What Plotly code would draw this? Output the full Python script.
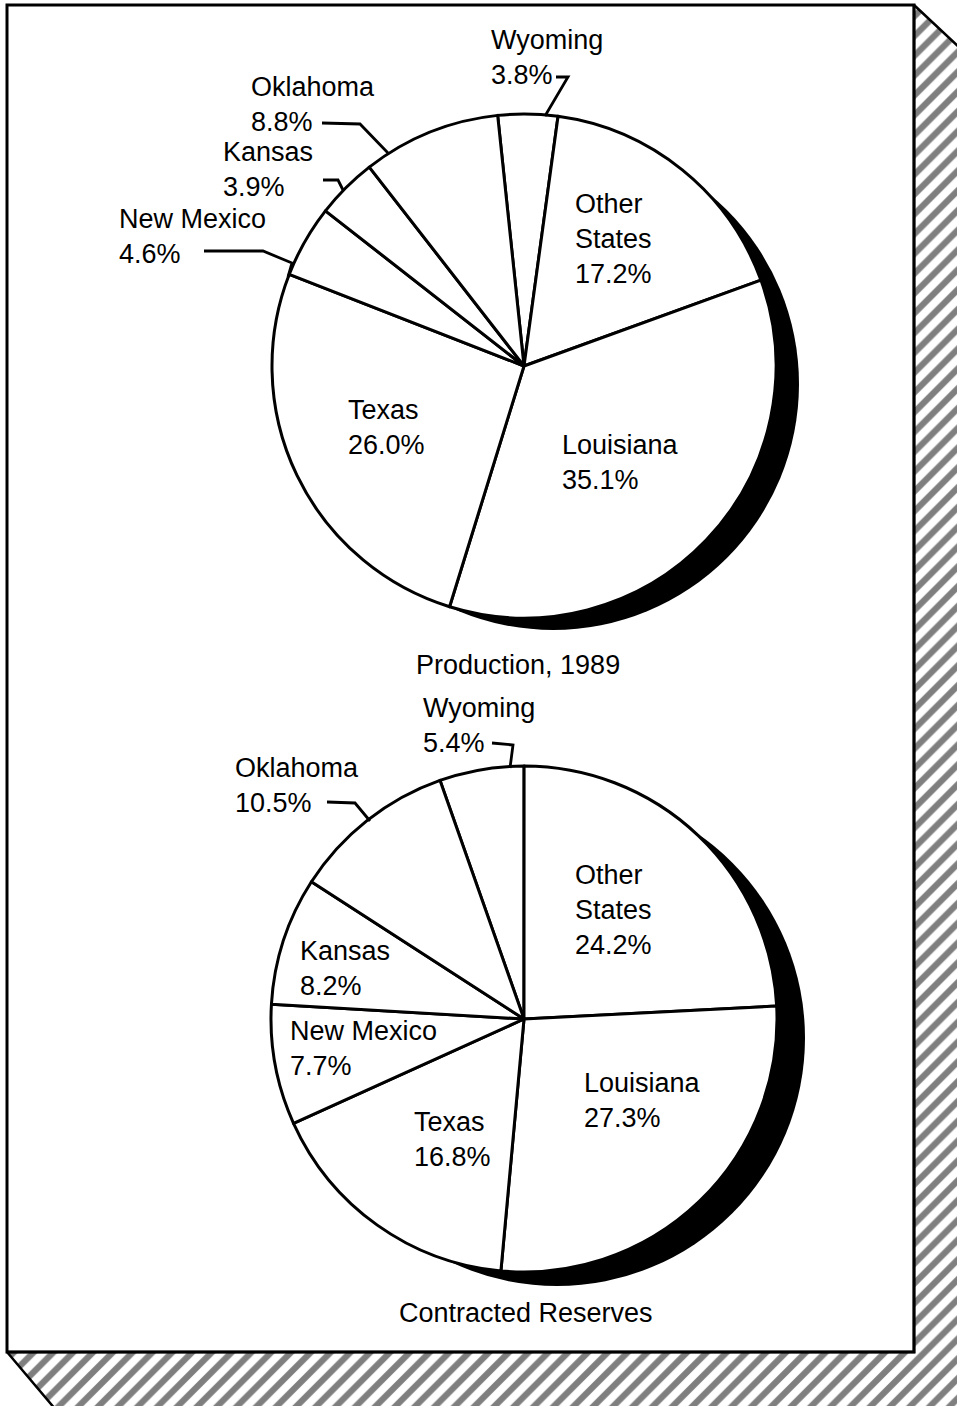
import plotly.graph_objects as go

# ---------------- data ----------------
states = ["Wyoming", "Other States", "Louisiana", "Texas", "New Mexico", "Kansas", "Oklahoma"]
production_1989 = [3.8, 17.2, 35.1, 26.0, 4.6, 3.9, 8.8]
contracted_reserves = [5.4, 24.2, 27.3, 16.8, 7.7, 8.2, 10.5]
chart_titles = ["Production, 1989", "Contracted Reserves"]

# ---------------- layout constants (pixels, window coordinates) ----------------
W, H = 957, 1406
FONT = "Liberation Sans, Arial, Helvetica, sans-serif"
FS = 27

pies = [
    dict(values=production_1989, cx=524, cy=366, r=252, rot=-6,
         sh_cx=553, sh_cy=384, sh_r=246, title_xy=(518, 665)),
    dict(values=contracted_reserves, cx=524, cy=1019, r=253, rot=-19.4,
         sh_cx=557, sh_cy=1038, sh_r=248, title_xy=(526, 1313)),
]

# label anchors: (left x, centre y) per state, per pie
label_pos = [
    {"Wyoming": (489, 57), "Other States": (573, 239), "Louisiana": (560, 462),
     "Texas": (346, 427), "New Mexico": (117, 236), "Kansas": (221, 169),
     "Oklahoma": (249, 104)},
    {"Wyoming": (421, 725), "Other States": (573, 910), "Louisiana": (582, 1100),
     "Texas": (412, 1139), "New Mexico": (288, 1048), "Kansas": (298, 968),
     "Oklahoma": (233, 785)},
]

# leader lines (pixel polylines) for labels placed outside the pie
leaders = [
    [[(556, 77), (568, 77), (545, 116)],
     [(322, 123), (360, 124), (388, 153)],
     [(323, 180), (338, 180), (343, 190)],
     [(204, 251), (263, 251), (292, 263), (288, 277)]],
    [[(492, 743), (513, 745), (510, 768)],
     [(327, 802), (355, 803), (370, 821)]],
]


def dom(cx, cy, r):
    return dict(x=[(cx - r) / W, (cx + r) / W], y=[1 - (cy + r) / H, 1 - (cy - r) / H])


fig = go.Figure()

# hatched shadow frame
hx = [914, 960, 960, 56, 7, 914, 914]
hy = [5, 48, 1410, 1410, 1352, 1352, 5]
fig.add_trace(go.Scatter(
    x=hx, y=hy, mode="lines", fill="toself", fillcolor="white",
    line=dict(color="black", width=2.5),
    fillpattern=dict(shape="/", fgcolor="black", bgcolor="white", size=14, solidity=0.45),
    hoverinfo="skip", showlegend=False))

for p in pies:
    # black drop shadow
    fig.add_trace(go.Pie(
        values=[1], labels=["shadow"], domain=dom(p["sh_cx"], p["sh_cy"], p["sh_r"]),
        marker=dict(colors=["black"], line=dict(width=0)),
        textinfo="none", hoverinfo="skip", sort=False, showlegend=False))
    fig.add_trace(go.Pie(
        values=p["values"], labels=states, domain=dom(p["cx"], p["cy"], p["r"]),
        sort=False, direction="clockwise", rotation=p["rot"],
        marker=dict(colors=["white"] * len(states), line=dict(color="black", width=3)),
        textinfo="none", hoverinfo="skip", showlegend=False))

annotations = []
for k, p in enumerate(pies):
    for name, val in zip(states, p["values"]):
        x, y = label_pos[k][name]
        txt = name.replace(" ", "<br>") if name == "Other States" else name
        annotations.append(dict(
            x=x, y=y, xref="x", yref="y", xanchor="left", yanchor="middle",
            align="left", showarrow=False,
            text=f"{txt}<br>{val:.1f}%",
            font=dict(family=FONT, size=FS, color="black")))
    tx, ty = p["title_xy"]
    annotations.append(dict(
        x=tx, y=ty, xref="x", yref="y", xanchor="center", yanchor="middle",
        showarrow=False, text=chart_titles[k],
        font=dict(family=FONT, size=FS, color="black")))

shapes = [dict(type="rect", xref="x", yref="y", x0=7, y0=5, x1=914, y1=1352,
               line=dict(color="black", width=3), fillcolor="rgba(0,0,0,0)", layer="above")]
for group in leaders:
    for pts in group:
        path = "M " + " L ".join(f"{x},{y}" for x, y in pts)
        shapes.append(dict(type="path", xref="x", yref="y", path=path,
                           line=dict(color="black", width=2.8), layer="above"))

fig.update_layout(
    width=W, height=H, margin=dict(l=0, r=0, t=0, b=0),
    paper_bgcolor="white", plot_bgcolor="white",
    xaxis=dict(range=[0, W], visible=False, fixedrange=True, domain=[0, 1]),
    yaxis=dict(range=[H, 0], visible=False, fixedrange=True, domain=[0, 1]),
    showlegend=False, annotations=annotations, shapes=shapes,
)

fig.write_html(
    "out.html",
    config={"displayModeBar": False, "staticPlot": True},
    post_script="document.body.style.margin='0';document.body.style.overflow='hidden';",
)
